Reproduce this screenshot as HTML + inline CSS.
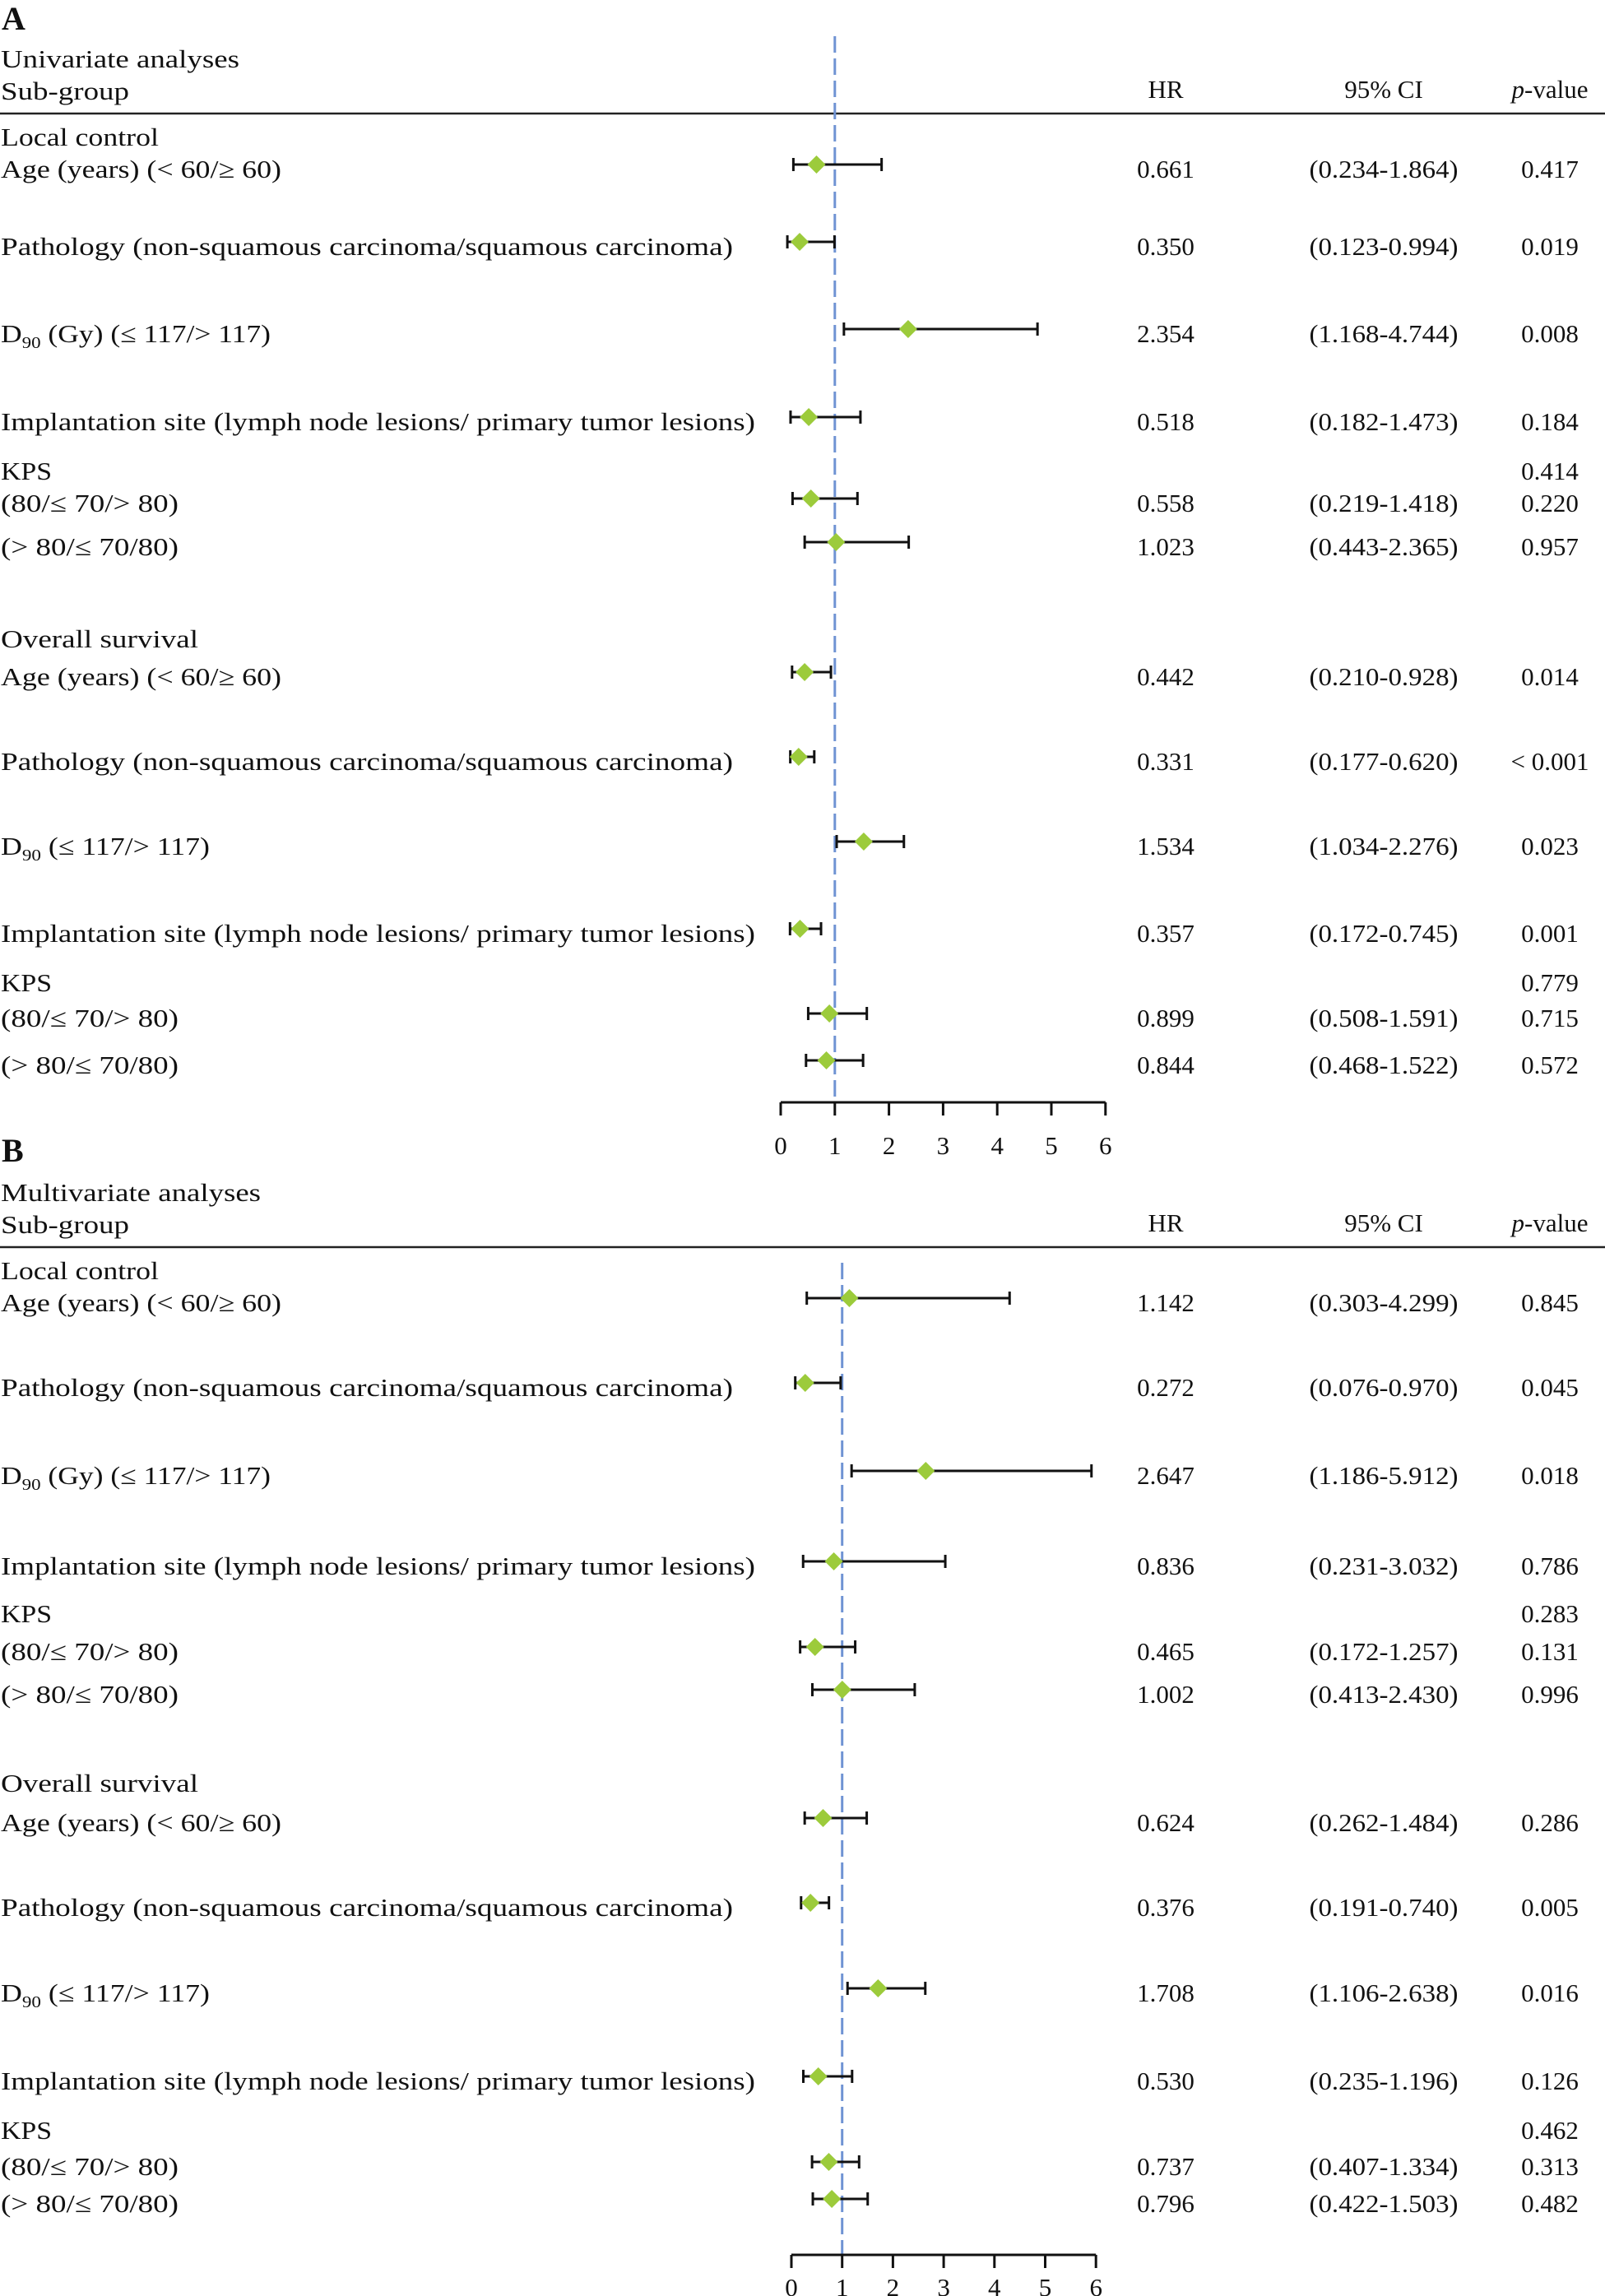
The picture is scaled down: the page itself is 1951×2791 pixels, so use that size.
<!DOCTYPE html>
<html><head><meta charset="utf-8"><style>
html,body{margin:0;padding:0;background:#fff;}
svg{display:block;}
text{font-family:"Liberation Serif",serif;fill:#111;}
</style></head><body>
<svg id="chart" width="1951" height="2791" viewBox="0 0 1951 2791" xmlns="http://www.w3.org/2000/svg"></svg>
<script>
// ---- data ----
const labelsA = ["Local control","Age (years) (< 60/≥ 60)","Pathology (non-squamous carcinoma/squamous carcinoma)","D90 (Gy) (≤ 117/> 117)","Implantation site (lymph node lesions/ primary tumor lesions)","KPS","(80/≤ 70/> 80)","(> 80/≤ 70/80)","Overall survival","Age (years) (< 60/≥ 60)","Pathology (non-squamous carcinoma/squamous carcinoma)","D90 (≤ 117/> 117)","Implantation site (lymph node lesions/ primary tumor lesions)","KPS","(80/≤ 70/> 80)","(> 80/≤ 70/80)"];
const hrA = [null,0.661,0.350,2.354,0.518,null,0.558,1.023,null,0.442,0.331,1.534,0.357,null,0.899,0.844];
const loA = [null,0.234,0.123,1.168,0.182,null,0.219,0.443,null,0.210,0.177,1.034,0.172,null,0.508,0.468];
const hiA = [null,1.864,0.994,4.744,1.473,null,1.418,2.365,null,0.928,0.620,2.276,0.745,null,1.591,1.522];
const pA = ["","0.417","0.019","0.008","0.184","0.414","0.220","0.957","","0.014","< 0.001","0.023","0.001","0.779","0.715","0.572"];
const hrB = [null,1.142,0.272,2.647,0.836,null,0.465,1.002,null,0.624,0.376,1.708,0.530,null,0.737,0.796];
const loB = [null,0.303,0.076,1.186,0.231,null,0.172,0.413,null,0.262,0.191,1.106,0.235,null,0.407,0.422];
const hiB = [null,4.299,0.970,5.912,3.032,null,1.257,2.430,null,1.484,0.740,2.638,1.196,null,1.334,1.503];
const pB = ["","0.845","0.045","0.018","0.786","0.283","0.131","0.996","","0.286","0.005","0.016","0.126","0.462","0.313","0.482"];
const ticks = [0,1,2,3,4,5,6];
// layout (not data)
const rowYA = [167,206,300,406,513,573,612,665,777,823,926,1029,1135,1195,1238,1295];
const rowYB = [1545,1584,1687,1794,1904,1962,2008,2060,2168,2216,2319,2423,2530,2590,2634,2679];
const labelW = [192,341,890,328,917,62,216,216,240,341,890,254,917,62,216,216];

const svg = document.getElementById('chart');
const NS = "http://www.w3.org/2000/svg";
function mk(tag, attrs, parent){const e=document.createElementNS(NS,tag);for(const k in attrs)e.setAttribute(k,attrs[k]);(parent||svg).appendChild(e);return e;}
function txt(s,x,y,opt,parent){
  const t=mk('text',Object.assign({x:x,y:y,'font-size':31},opt||{}),parent);
  if(s.startsWith("D90")){t.appendChild(document.createTextNode("D"));
    const sub=mk('tspan',{'font-size':20,dy:7},t);sub.textContent="90";
    const r=mk('tspan',{dy:-7},t);r.textContent=s.slice(3);}
  else t.textContent=s;
  return t;}

function panel(p){
  const g=mk('g',{});
  
  
  const L=txt(p.letter,2,p.letterY,{'font-size':40,'font-weight':'bold'},g);
  
  const T=txt(p.title,1,p.top+82,{textLength:p.titleW,lengthAdjust:'spacingAndGlyphs'},g);
  
  const S=txt("Sub-group",1,p.top+121,{textLength:156,lengthAdjust:'spacingAndGlyphs'},g);
  
  const H=txt("HR",1417,p.top+119,{'text-anchor':'middle'},g);
  
  const C=txt("95% CI",1682,p.top+119,{'text-anchor':'middle'},g);
  
  const P=mk('text',{x:1884,y:p.top+119,'font-size':31,'text-anchor':'middle'},g);
  
  const it=mk('tspan',{'font-style':'italic'},P);it.textContent="p";
  const rs=mk('tspan',{},P);rs.textContent="-value";
  const hl=mk('line',{x1:0,x2:1951,y1:p.top+138,y2:p.top+138,stroke:'#222','stroke-width':2.5},g);
  
  const xs=v=>p.x0+v*p.unit;
  const ref=mk('line',{x1:xs(1),x2:xs(1),y1:p.refTop,y2:p.axisY,stroke:'#6f93d3','stroke-width':3,'stroke-dasharray':'20 7'},g);
  
  const ax=mk('line',{x1:xs(0),x2:xs(6),y1:p.axisY,y2:p.axisY,stroke:'#111','stroke-width':3},g);
  
  ticks.forEach(t=>{
    const tk=mk('line',{x1:xs(t),x2:xs(t),y1:p.axisY,y2:p.axisY+16,stroke:'#111','stroke-width':3},g);
    
    const tl=txt(String(t),xs(t),p.axisY+p.tickDy,{'text-anchor':'middle','font-size':31},g);
    
  });
  p.labels.forEach((s,i)=>{
    const y=p.rows[i];
    const lt=txt(s,1,y+10,{textLength:labelW[i],lengthAdjust:'spacingAndGlyphs'},g);
    
    if(p.pv[i]){
      const pt=txt(p.pv[i],1884,y+10,{'text-anchor':'middle'},g);
      
    }
    if(p.hr[i]!=null){
      const ht=txt(p.hr[i].toFixed(3),1417,y+10,{'text-anchor':'middle'},g);
      
      const ct=txt("("+p.lo[i].toFixed(3)+"-"+p.hi[i].toFixed(3)+")",1682,y+10,{'text-anchor':'middle',textLength:181,lengthAdjust:'spacingAndGlyphs'},g);
      
      const my=y-6;
      const el=mk('line',{x1:xs(p.lo[i]),x2:xs(p.hi[i]),y1:my,y2:my,stroke:'#111','stroke-width':3},g);
      
      [p.lo[i],p.hi[i]].forEach(v=>{
        const c=mk('line',{x1:xs(v),x2:xs(v),y1:my-8,y2:my+8,stroke:'#111','stroke-width':3},g);
        
      });
      const cx=xs(p.hr[i]);
      const d=mk('polygon',{points:`${cx},${my-11} ${cx+11},${my} ${cx},${my+11} ${cx-11},${my}`,fill:'#9ccb3b'},g);
      
    }
  });
}
panel({name:'panel-a-univariate',letter:'A',letterY:36,title:'Univariate analyses',titleW:290,top:0,rows:rowYA,labels:labelsA,hr:hrA,lo:loA,hi:hiA,pv:pA,x0:949,unit:65.8,axisY:1340,refTop:44,tickDy:63});
panel({name:'panel-b-multivariate',letter:'B',letterY:1412,title:'Multivariate analyses',titleW:316,top:1378,rows:rowYB,labels:labelsA,hr:hrB,lo:loB,hi:hiB,pv:pB,x0:962,unit:61.7,axisY:2741,refTop:1535,tickDy:50});
</script>
</body></html>
